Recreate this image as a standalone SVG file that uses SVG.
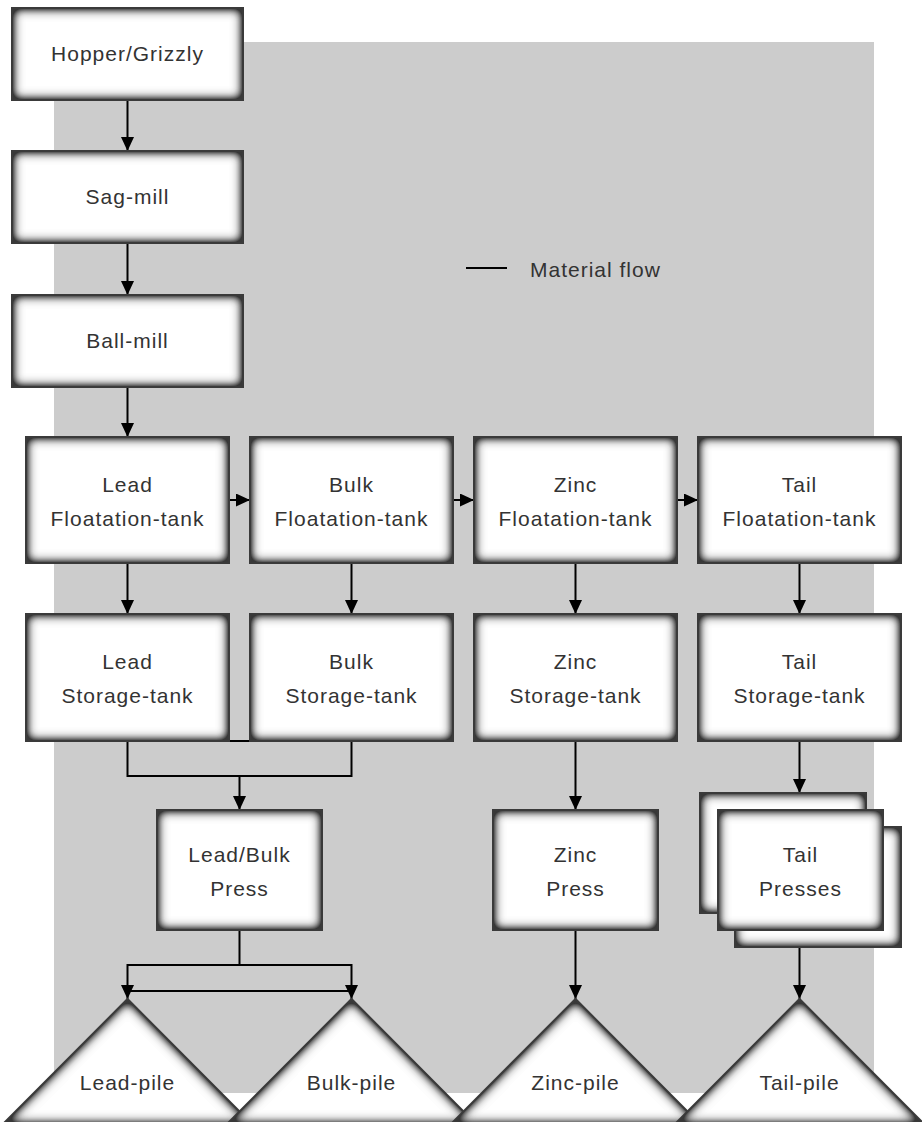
<svg xmlns="http://www.w3.org/2000/svg" width="922" height="1122" viewBox="0 0 922 1122">
  <defs>
    <!-- soft inner bevel: blurred alpha mapped to grey, clipped to the shape -->
    <filter id="bevel" x="-5%" y="-5%" width="110%" height="110%" color-interpolation-filters="sRGB">
      <feGaussianBlur in="SourceAlpha" stdDeviation="6" result="b"/>
      <feColorMatrix in="b" type="matrix" values="0 0 0 1 0  0 0 0 1 0  0 0 0 1 0  0 0 0 0 1" result="g"/>
      <feComponentTransfer in="g" result="t">
        <feFuncR type="table" tableValues="0.22 0.22 0.22 0.22 0.22 0.22 0.38 0.55 0.72 0.88 1"/>
        <feFuncG type="table" tableValues="0.22 0.22 0.22 0.22 0.22 0.22 0.38 0.55 0.72 0.88 1"/>
        <feFuncB type="table" tableValues="0.22 0.22 0.22 0.22 0.22 0.22 0.38 0.55 0.72 0.88 1"/>
      </feComponentTransfer>
      <feComposite in="t" in2="SourceAlpha" operator="in"/>
    </filter>
    <marker id="arrow" viewBox="0 0 10 10" refX="10" refY="5" markerWidth="14" markerHeight="13" markerUnits="userSpaceOnUse" orient="auto" preserveAspectRatio="none">
      <path d="M0,0 L10,5 L0,10 z" fill="#000"/>
    </marker>
    <style>
      .bev { fill: #000; filter: url(#bevel); }
      .edge { fill: none; stroke: #3a3a3a; stroke-width: 2; }
      .lbl { font-family: "Liberation Sans", Arial, sans-serif; font-size: 21px; letter-spacing: 1px; fill: #333; text-anchor: middle; }
      .flow { fill: none; stroke: #000; stroke-width: 2; }
      .arr { marker-end: url(#arrow); }
    </style>
  </defs>

  <!-- backdrop panel -->
  <rect x="54" y="42" width="820" height="1051" fill="#cccccc"/>

  <!-- legend -->
  <g id="legend">
    <line x1="466" y1="268" x2="507" y2="268" stroke="#000" stroke-width="2"/>
    <text class="lbl" x="530" y="277" style="text-anchor:start">Material flow</text>
  </g>

  <!-- connectors -->
  <g id="connectors">
    <line class="flow arr" x1="127.5" y1="100" x2="127.5" y2="151"/>
    <line class="flow arr" x1="127.5" y1="243" x2="127.5" y2="295"/>
    <line class="flow arr" x1="127.5" y1="387" x2="127.5" y2="437"/>

    <line class="flow arr" x1="229" y1="500" x2="250" y2="500"/>
    <line class="flow arr" x1="453" y1="500" x2="474" y2="500"/>
    <line class="flow arr" x1="677" y1="500" x2="698" y2="500"/>

    <line class="flow arr" x1="127.5" y1="563" x2="127.5" y2="614"/>
    <line class="flow arr" x1="351.5" y1="563" x2="351.5" y2="614"/>
    <line class="flow arr" x1="575.5" y1="563" x2="575.5" y2="614"/>
    <line class="flow arr" x1="799.5" y1="563" x2="799.5" y2="614"/>

    <polyline class="flow" points="127.5,741 127.5,776 351.5,776 351.5,741"/>
    <line class="flow" x1="229" y1="741" x2="250" y2="741"/>
    <line class="flow arr" x1="239.5" y1="776" x2="239.5" y2="810"/>
    <line class="flow arr" x1="575.5" y1="741" x2="575.5" y2="810"/>
    <line class="flow arr" x1="799.5" y1="741" x2="799.5" y2="793"/>

    <polyline class="flow" points="239.5,930 239.5,965"/>
    <line class="flow" x1="127.5" y1="965" x2="351.5" y2="965"/>
    <line class="flow arr" x1="127.5" y1="964" x2="127.5" y2="999"/>
    <line class="flow arr" x1="351.5" y1="964" x2="351.5" y2="999"/>
    <line class="flow" x1="127.5" y1="991" x2="351.5" y2="991"/>
    <line class="flow arr" x1="575.5" y1="930" x2="575.5" y2="999"/>
    <line class="flow arr" x1="799.5" y1="947" x2="799.5" y2="999"/>
  </g>

  <!-- process units -->
  <g id="hopper">
    <rect class="bev" x="12" y="8" width="231" height="92"/>
    <rect class="edge" x="12" y="8" width="231" height="92"/>
    <text class="lbl" x="127.5" y="61">Hopper/Grizzly</text>
  </g>
  <g id="sag-mill">
    <rect class="bev" x="12" y="151" width="231" height="92"/>
    <rect class="edge" x="12" y="151" width="231" height="92"/>
    <text class="lbl" x="127.5" y="204">Sag-mill</text>
  </g>
  <g id="ball-mill">
    <rect class="bev" x="12" y="295" width="231" height="92"/>
    <rect class="edge" x="12" y="295" width="231" height="92"/>
    <text class="lbl" x="127.5" y="348">Ball-mill</text>
  </g>

  <g id="lead-floatation">
    <rect class="bev" x="26" y="437" width="203" height="126"/>
    <rect class="edge" x="26" y="437" width="203" height="126"/>
    <text class="lbl" x="127.5" y="492">Lead</text>
    <text class="lbl" x="127.5" y="526">Floatation-tank</text>
  </g>
  <g id="bulk-floatation">
    <rect class="bev" x="250" y="437" width="203" height="126"/>
    <rect class="edge" x="250" y="437" width="203" height="126"/>
    <text class="lbl" x="351.5" y="492">Bulk</text>
    <text class="lbl" x="351.5" y="526">Floatation-tank</text>
  </g>
  <g id="zinc-floatation">
    <rect class="bev" x="474" y="437" width="203" height="126"/>
    <rect class="edge" x="474" y="437" width="203" height="126"/>
    <text class="lbl" x="575.5" y="492">Zinc</text>
    <text class="lbl" x="575.5" y="526">Floatation-tank</text>
  </g>
  <g id="tail-floatation">
    <rect class="bev" x="698" y="437" width="203" height="126"/>
    <rect class="edge" x="698" y="437" width="203" height="126"/>
    <text class="lbl" x="799.5" y="492">Tail</text>
    <text class="lbl" x="799.5" y="526">Floatation-tank</text>
  </g>

  <g id="lead-storage">
    <rect class="bev" x="26" y="614" width="203" height="127"/>
    <rect class="edge" x="26" y="614" width="203" height="127"/>
    <text class="lbl" x="127.5" y="669">Lead</text>
    <text class="lbl" x="127.5" y="703">Storage-tank</text>
  </g>
  <g id="bulk-storage">
    <rect class="bev" x="250" y="614" width="203" height="127"/>
    <rect class="edge" x="250" y="614" width="203" height="127"/>
    <text class="lbl" x="351.5" y="669">Bulk</text>
    <text class="lbl" x="351.5" y="703">Storage-tank</text>
  </g>
  <g id="zinc-storage">
    <rect class="bev" x="474" y="614" width="203" height="127"/>
    <rect class="edge" x="474" y="614" width="203" height="127"/>
    <text class="lbl" x="575.5" y="669">Zinc</text>
    <text class="lbl" x="575.5" y="703">Storage-tank</text>
  </g>
  <g id="tail-storage">
    <rect class="bev" x="698" y="614" width="203" height="127"/>
    <rect class="edge" x="698" y="614" width="203" height="127"/>
    <text class="lbl" x="799.5" y="669">Tail</text>
    <text class="lbl" x="799.5" y="703">Storage-tank</text>
  </g>

  <g id="lead-bulk-press">
    <rect class="bev" x="157" y="810" width="165" height="120"/>
    <rect class="edge" x="157" y="810" width="165" height="120"/>
    <text class="lbl" x="239.5" y="862">Lead/Bulk</text>
    <text class="lbl" x="239.5" y="896">Press</text>
  </g>
  <g id="zinc-press">
    <rect class="bev" x="493" y="810" width="165" height="120"/>
    <rect class="edge" x="493" y="810" width="165" height="120"/>
    <text class="lbl" x="575.5" y="862">Zinc</text>
    <text class="lbl" x="575.5" y="896">Press</text>
  </g>
  <g id="tail-presses">
    <rect class="bev" x="700" y="793" width="166" height="120"/>
    <rect class="edge" x="700" y="793" width="166" height="120"/>
    <rect class="bev" x="735" y="827" width="166" height="120"/>
    <rect class="edge" x="735" y="827" width="166" height="120"/>
    <rect class="bev" x="718" y="810" width="165" height="120"/>
    <rect class="edge" x="718" y="810" width="165" height="120"/>
    <text class="lbl" x="800.5" y="862">Tail</text>
    <text class="lbl" x="800.5" y="896">Presses</text>
  </g>

  <!-- stockpiles -->
  <g id="lead-pile">
    <polygon class="bev" points="127.5,999 3,1124 252,1124"/>
    <polygon class="edge" points="127.5,999 3,1124 252,1124"/>
    <text class="lbl" x="127.5" y="1090">Lead-pile</text>
  </g>
  <g id="bulk-pile">
    <polygon class="bev" points="351.5,999 227,1124 476,1124"/>
    <polygon class="edge" points="351.5,999 227,1124 476,1124"/>
    <text class="lbl" x="351.5" y="1090">Bulk-pile</text>
  </g>
  <g id="zinc-pile">
    <polygon class="bev" points="575.5,999 451,1124 700,1124"/>
    <polygon class="edge" points="575.5,999 451,1124 700,1124"/>
    <text class="lbl" x="575.5" y="1090">Zinc-pile</text>
  </g>
  <g id="tail-pile">
    <polygon class="bev" points="799.5,999 675,1124 924,1124"/>
    <polygon class="edge" points="799.5,999 675,1124 924,1124"/>
    <text class="lbl" x="799.5" y="1090">Tail-pile</text>
  </g>
</svg>
